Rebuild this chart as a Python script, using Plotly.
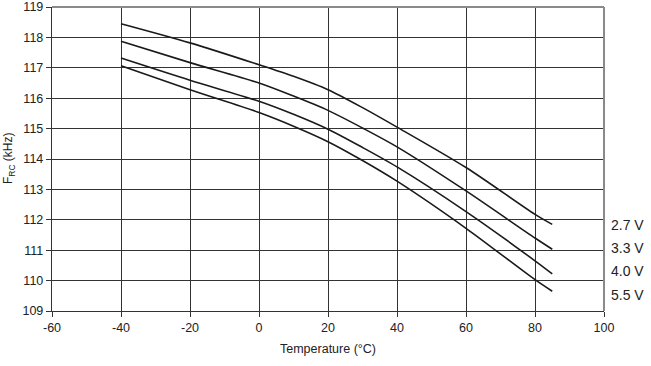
import plotly.graph_objects as go

temps = [-40, -20, 0, 10, 20, 30, 40, 60, 80, 85]
f_27 = [118.45, 117.82, 117.10, 116.72, 116.28, 115.69, 115.05, 113.72, 112.18, 111.85]
f_33 = [117.87, 117.17, 116.50, 116.07, 115.60, 115.02, 114.40, 112.95, 111.40, 111.03]
f_40 = [117.32, 116.59, 115.90, 115.47, 114.98, 114.38, 113.74, 112.27, 110.65, 110.22]
f_55 = [117.07, 116.28, 115.53, 115.08, 114.57, 113.95, 113.27, 111.72, 110.03, 109.65]

series_names = ["2.7 V", "3.3 V", "4.0 V", "5.5 V"]
series_vals = [f_27, f_33, f_40, f_55]
label_y = [111.84, 111.07, 110.30, 109.52]

x_ticks = [-60, -40, -20, 0, 20, 40, 60, 80, 100]
x_labels = ["-60", "-40", "-20", "0", "20", "40", "60", "80", "100"]
y_ticks = [109, 110, 111, 112, 113, 114, 115, 116, 117, 118, 119]

fig = go.Figure()
for name, vals in zip(series_names, series_vals):
    fig.add_trace(go.Scatter(
        x=temps, y=vals, mode="lines", name=name,
        line=dict(color="#1a1a1a", width=1.6, shape="spline", smoothing=0.8),
        showlegend=False, hoverinfo="skip"))

for name, yv in zip(series_names, label_y):
    fig.add_annotation(xref="paper", x=1, xanchor="left", xshift=5,
                       yref="y", y=yv, text=name, showarrow=False,
                       font=dict(size=14, color="#222"))

fig.add_annotation(xref="paper", x=0, xshift=-43, xanchor="center",
                   yref="paper", y=0.5, yanchor="middle",
                   text="F<sub>RC</sub> (kHz)", textangle=-90, showarrow=False,
                   font=dict(size=12, color="#222"))

# top and right borders (lighter grey)
fig.add_shape(type="line", xref="paper", yref="paper", x0=0, x1=1, y0=1, y1=1,
              line=dict(color="#8a8a8a", width=2))
fig.add_shape(type="line", xref="paper", yref="paper", x0=1, x1=1, y0=0, y1=1,
              line=dict(color="#8a8a8a", width=2))

font = "Liberation Sans, Arial, sans-serif"
fig.update_layout(
    width=651, height=366,
    margin=dict(l=52, r=47, t=7, b=55),
    paper_bgcolor="white", plot_bgcolor="white",
    font=dict(family=font, size=12, color="#222"),
    xaxis=dict(range=[-60, 100], tickvals=x_ticks, ticktext=x_labels,
               showgrid=True, gridcolor="#333", gridwidth=1.4, zeroline=False,
               showline=True, linecolor="#333", linewidth=1.4,
               ticks="outside", ticklen=5, tickcolor="#333", automargin=False,
               tickfont=dict(size=12.5),
               title=dict(text="Temperature (°C)", standoff=10,
                          font=dict(size=12.5))),
    yaxis=dict(range=[109, 119], tickvals=y_ticks, showgrid=True,
               gridcolor="#333", gridwidth=1.4, zeroline=False,
               showline=True, linecolor="#333", linewidth=1.4,
               ticks="outside", ticklen=5, tickcolor="#333", automargin=False,
               tickfont=dict(size=12.5)),
)

fig.write_html("out.html", config={"displayModeBar": False},
               post_script="document.body.style.margin='0';document.body.style.padding='0';")
